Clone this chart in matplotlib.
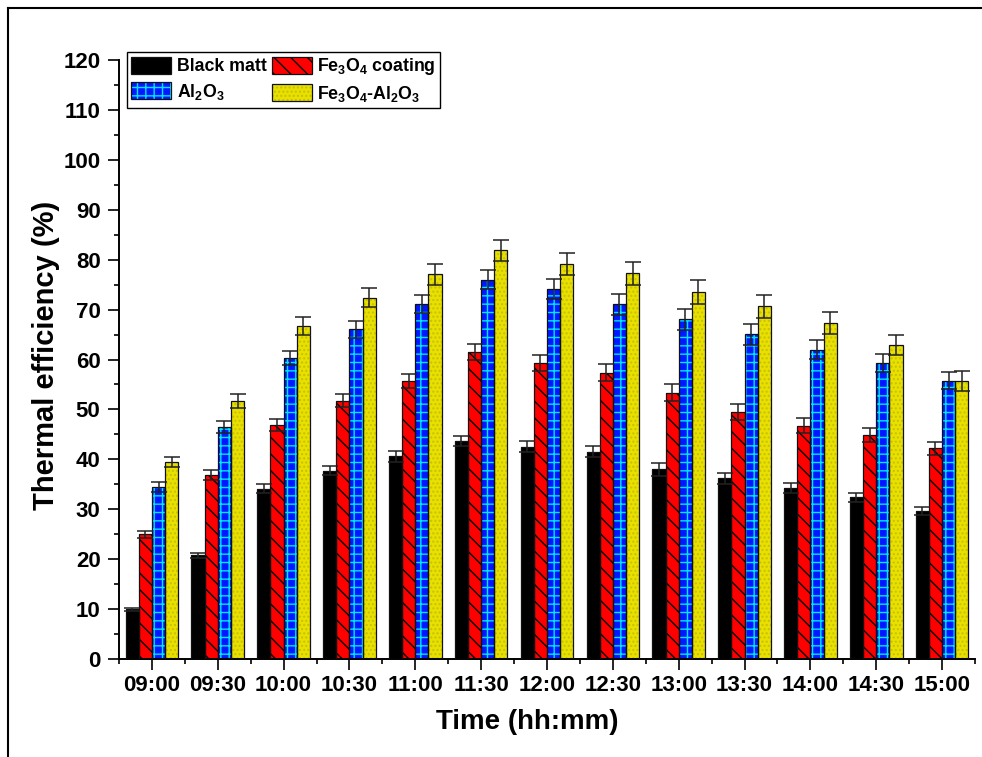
#!/usr/bin/env python3
"""
Thermal efficiency of the four absorber coatings over the day
"""

import numpy as np
from matplotlib import pyplot as plt
from matplotlib.patches import Patch
from matplotlib.lines import Line2D

plt.rcParams["font.family"] = "Liberation Sans"
plt.rcParams["font.weight"] = "bold"
plt.rcParams["mathtext.fontset"] = "custom"
plt.rcParams["mathtext.rm"] = "Liberation Sans:bold"
plt.rcParams["mathtext.default"] = "rm"
plt.rcParams["hatch.linewidth"] = 1.0

times = ["09:00", "09:30", "10:00", "10:30", "11:00", "11:30", "12:00",
         "12:30", "13:00", "13:30", "14:00", "14:30", "15:00"]

black_matt = [10.0, 20.8, 34.1, 37.7, 40.6, 43.6, 42.5, 41.5, 38.0, 36.2, 34.2, 32.4, 29.7]
fe3o4 = [25.0, 36.9, 46.8, 51.7, 55.7, 61.6, 59.3, 57.3, 53.3, 49.4, 46.7, 44.9, 42.2]
al2o3 = [34.5, 46.4, 60.3, 66.1, 71.1, 76.0, 74.1, 71.1, 68.1, 65.1, 62.0, 59.3, 55.7]
fe3o4_al2o3 = [39.5, 51.7, 66.7, 72.4, 77.1, 81.9, 79.2, 77.3, 73.5, 70.7, 67.3, 62.9, 55.7]

black_matt_err = [0.3, 0.5, 0.9, 0.9, 1.1, 1.0, 1.1, 1.1, 1.3, 1.1, 1.0, 0.9, 0.8]
fe3o4_err = [0.7, 1.0, 1.2, 1.3, 1.4, 1.6, 1.6, 1.7, 1.7, 1.6, 1.5, 1.4, 1.3]
al2o3_err = [1.0, 1.2, 1.5, 1.7, 1.8, 1.9, 2.0, 2.1, 2.1, 2.1, 1.9, 1.8, 1.7]
fe3o4_al2o3_err = [1.0, 1.4, 1.8, 1.9, 2.1, 2.1, 2.2, 2.3, 2.4, 2.3, 2.2, 2.0, 2.0]

labels = ["Black matt", "Fe$_3$O$_4$ coating", "Al$_2$O$_3$", "Fe$_3$O$_4$-Al$_2$O$_3$"]
series = [black_matt, fe3o4, al2o3, fe3o4_al2o3]
errors = [black_matt_err, fe3o4_err, al2o3_err, fe3o4_al2o3_err]

# fill colour, hatch pattern, hatch colour
styles = [("#000000", None, "#000000"),
          ("#ff0000", "\\\\", "#000000"),
          ("#0018ff", "++", "#00e8ff"),
          ("#e8e000", "....", "#c9c000")]

fig = plt.figure(figsize=(9.82, 7.57), dpi=100)
ax = fig.add_axes([119/982, 1 - 659/757, (975 - 119)/982, (659 - 60)/757])

x = np.arange(len(times))
width = 0.2
handles = []
for i, (vals, err) in enumerate(zip(series, errors)):
    face, hatch, hcol = styles[i]
    pos = x + (i - 1.5)*width
    ax.bar(pos, vals, width, color=face, edgecolor=hcol, hatch=hatch,
        linewidth=0, zorder=2)
    ax.bar(pos, vals, width, fill=False, edgecolor="#111111", linewidth=0.9, zorder=3)
    ax.errorbar(pos, vals, yerr=err, fmt="none", ecolor="#222222",
        elinewidth=1.1, capsize=5.5, capthick=1.1, zorder=4)
    handles.append((Patch(facecolor=face, edgecolor=hcol, hatch=hatch, linewidth=0),
                    Patch(fill=False, edgecolor="#111111", linewidth=0.9)))

ax.set_xlim(-0.5, len(times) - 0.5)
ax.set_ylim(0, 120)
ax.set_xticks(x)
ax.set_xticklabels(times)
ax.set_xticks(np.r_[-0.5, x + 0.5], minor=True)
ax.set_yticks(np.arange(0, 121, 10))
ax.set_yticks(np.arange(5, 120, 10), minor=True)

for side in ["top", "right"]:
    ax.spines[side].set_visible(False)
for side in ["left", "bottom"]:
    ax.spines[side].set_linewidth(1.4)

ax.tick_params(which="major", direction="out", length=7.8, width=1.2, labelsize=16)
ax.tick_params(which="minor", direction="out", length=3.8, width=1.2)
ax.tick_params(axis="y", which="major", pad=5.5)
ax.tick_params(axis="x", which="major", pad=4)
for lab in ax.get_xticklabels() + ax.get_yticklabels():
    lab.set_fontweight("bold")

ax.set_xlabel("Time (hh:mm)", size=20, weight="bold", va="center")
ax.xaxis.set_label_coords((527 - 119)/856, (659 - 722)/599)
ax.set_ylabel("Thermal efficiency (%)", size=21, weight="bold", va="center")
ax.yaxis.set_label_coords((46 - 119)/856, (659 - 355)/599)

# legend fills column by column, so order entries to read row-wise
order = [0, 2, 1, 3]
leg = ax.legend([handles[k] for k in order], [labels[k] for k in order],
    ncol=2, loc="upper left",
    bbox_to_anchor=(127/982, 1 - 52/757), bbox_transform=fig.transFigure,
    borderaxespad=0, prop={"weight": "bold", "size": 12.8},
    handlelength=2.25, handleheight=1.15, handletextpad=0.3,
    columnspacing=0.3, labelspacing=0.35, borderpad=0.25,
    fancybox=False, framealpha=1, edgecolor="black")
leg.get_frame().set_linewidth(1.0)

# outer frame line along the top and left of the figure
fig.add_artist(Line2D([7.5/982, 1.0], [1 - 7.5/757, 1 - 7.5/757], color="black", lw=1.5))
fig.add_artist(Line2D([7.5/982, 7.5/982], [0.0, 1 - 7.5/757], color="black", lw=1.5))

plt.savefig("out.png", dpi=100)
plt.close()
